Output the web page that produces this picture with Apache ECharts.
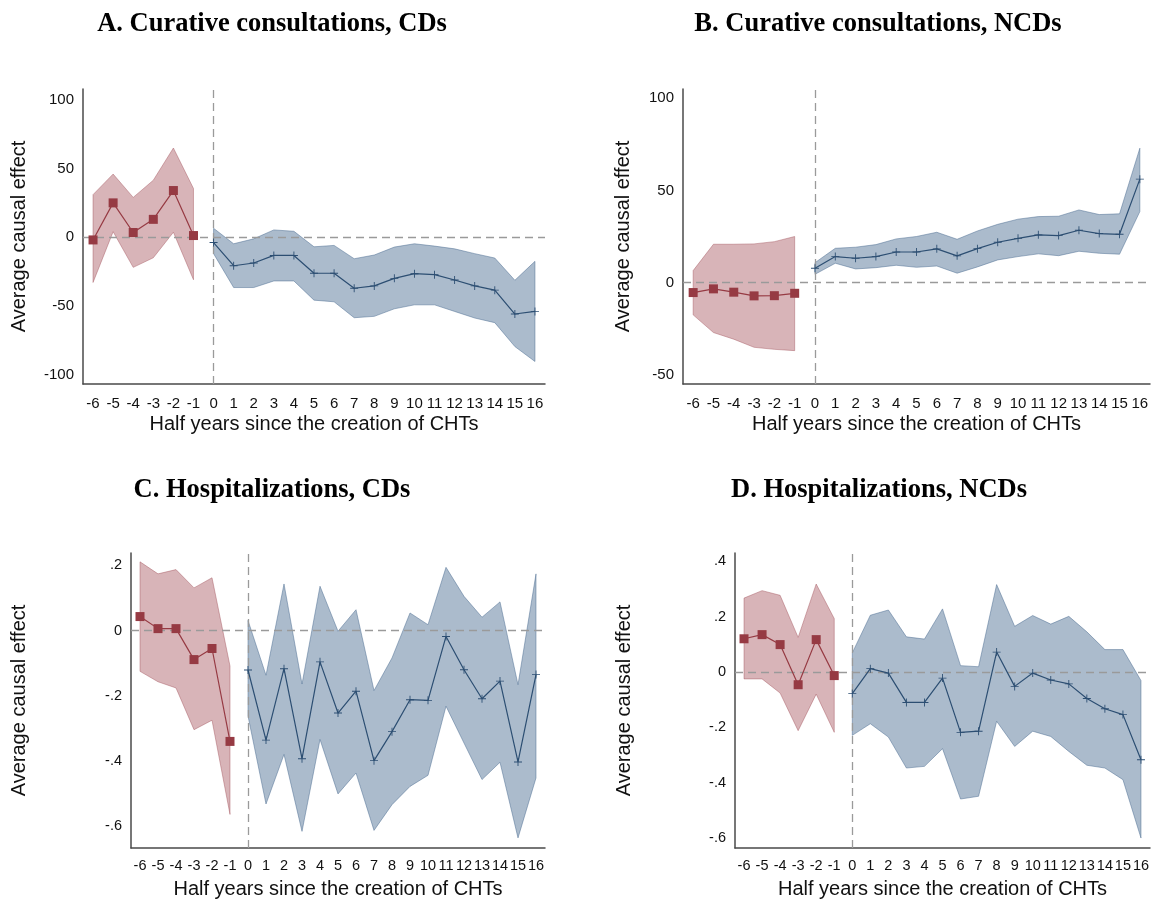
<!DOCTYPE html>
<html>
<head>
<meta charset="utf-8">
<title>Event-study estimates</title>
<script src="https://cdn.jsdelivr.net/npm/echarts@6/dist/echarts.min.js"></script>
<style>
  html, body { margin: 0; padding: 0; background: #ffffff; }
  #chart { width: 1159px; height: 902px; }
</style>
</head>
<body>
<div id="chart"></div>
<script>
// Half-year periods relative to the creation of CHTs
const periods = ['-6','-5','-4','-3','-2','-1','0','1','2','3','4','5','6','7','8','9','10','11','12','13','14','15','16'];
const prePeriods = ['-6','-5','-4','-3','-2','-1'];
const postPeriods = ['0','1','2','3','4','5','6','7','8','9','10','11','12','13','14','15','16'];

// A. Curative consultations, CDs
const aPre   = [-2, 25, 3.4, 13, 34, 1.2];
const aPreHi = [31, 46, 29, 41.5, 65, 35.5];
const aPreLo = [-33, 4, -22, -15, 3.6, -31];
const aPost   = [-3.9, -20.8, -18.8, -13.3, -13.3, -26.3, -26.3, -37.2, -35.5, -30, -26.6, -27.3, -31.2, -35.5, -38.6, -56, -54.1];
const aPostHi = [6.5, -4.8, -1.2, 5.3, 4.3, -7, -6, -15.7, -13, -7.2, -4.8, -6.5, -8.5, -12, -15.2, -31.4, -17.6];
const aPostLo = [-12, -36.7, -36.7, -31.9, -31.9, -45.9, -47.1, -58.7, -57.7, -52.2, -49.3, -49.3, -54.1, -58.9, -62.3, -79.7, -90.6];

// B. Curative consultations, NCDs
const bPre   = [-5.4, -3.4, -5.2, -7.2, -7.1, -5.8];
const bPreHi = [6.5, 20.8, 20.8, 21, 22.2, 25];
const bPreLo = [-17.5, -27.1, -30.7, -35.1, -36.2, -36.9];
const bPost   = [7.8, 14.1, 13.2, 14.1, 16.6, 16.6, 18.3, 14.5, 18.4, 21.9, 24, 25.9, 25.5, 28.4, 26.6, 26.2, 56.1];
const bPostHi = [10.8, 18.6, 19.2, 20.6, 23.7, 25, 27.3, 23.5, 28, 31.6, 34.4, 35.8, 36, 39.4, 36.9, 37.3, 72.9];
const bPostLo = [4.5, 10.5, 7.4, 8.1, 9.4, 8.3, 9, 5.1, 8.5, 12.3, 14.1, 15.6, 14.6, 17, 15.9, 15.4, 38.5];

// C. Hospitalizations, CDs
const cPre   = [0.043, 0.006, 0.006, -0.089, -0.055, -0.340];
const cPreHi = [0.211, 0.174, 0.187, 0.131, 0.162, -0.109];
const cPreLo = [-0.125, -0.157, -0.176, -0.304, -0.275, -0.564];
const cPost   = [-0.121, -0.336, -0.117, -0.393, -0.096, -0.253, -0.186, -0.399, -0.310, -0.212, -0.214, -0.018, -0.120, -0.209, -0.155, -0.403, -0.135];
const cPostHi = [0.031, -0.137, 0.143, -0.164, 0.136, -0.002, 0.064, -0.184, -0.084, 0.054, 0.018, 0.194, 0.105, 0.041, 0.088, -0.166, 0.174];
const cPostLo = [-0.262, -0.532, -0.380, -0.616, -0.334, -0.501, -0.437, -0.613, -0.534, -0.478, -0.444, -0.232, -0.345, -0.457, -0.404, -0.636, -0.452];

// D. Hospitalizations, NCDs
const dPre   = [0.120, 0.135, 0.099, -0.046, 0.117, -0.013];
const dPreHi = [0.267, 0.294, 0.277, 0.125, 0.318, 0.193];
const dPreLo = [-0.025, -0.025, -0.076, -0.212, -0.080, -0.218];
const dPost   = [-0.078, 0.012, -0.004, -0.110, -0.110, -0.022, -0.218, -0.214, 0.072, -0.052, -0.004, -0.029, -0.043, -0.096, -0.133, -0.154, -0.317];
const dPostHi = [0.069, 0.205, 0.224, 0.127, 0.119, 0.228, 0.023, 0.019, 0.316, 0.165, 0.204, 0.173, 0.201, 0.145, 0.081, 0.081, -0.031];
const dPostLo = [-0.229, -0.187, -0.235, -0.347, -0.341, -0.277, -0.459, -0.449, -0.178, -0.269, -0.214, -0.233, -0.287, -0.337, -0.347, -0.389, -0.600];

// Panel titles and y-axis tick labels
const titles = ['A. Curative consultations, CDs', 'B. Curative consultations, NCDs', 'C. Hospitalizations, CDs', 'D. Hospitalizations, NCDs'];
const yTicksTop = [-100, -50, 0, 50, 100];
const yTicksBottom = [-0.6, -0.4, -0.2, 0, 0.2, 0.4];

const RED_LINE = '#963a43';
const RED_BAND = 'rgba(173, 96, 104, 0.47)';
const RED_EDGE = 'rgba(160, 80, 90, 0.55)';
const BLUE_LINE = '#2c4e72';
const BLUE_BAND = 'rgba(94, 124, 157, 0.52)';
const BLUE_EDGE = 'rgba(70, 104, 142, 0.6)';
const AXIS_COLOR = '#4a4a4a';
const TEXT_COLOR = '#111111';
const SANS = '"Liberation Sans", Arial, Helvetica, sans-serif';

const plusPath = 'path://M4,0h1v9h-1z M0,4h9v1h-9z';

function fmtSmall(v) {
  if (Math.abs(v) < 1e-9) return '0';
  const s = String(Math.round(v * 10) / 10);
  return s.replace('0.', '.');
}

const panels = [
  { pre: aPre, preHi: aPreHi, preLo: aPreLo, post: aPost, postHi: aPostHi, postLo: aPostLo,
    grid: { left: 83, top: 89, width: 462, height: 295 }, yMin: -107, yMax: 108, ticks: yTicksTop, fmt: v => String(v),
    nameGapY: 54, nameGapX: 30, labelMarginX: 12, tickFont: 15 },
  { pre: bPre, preHi: bPreHi, preLo: bPreLo, post: bPost, postHi: bPostHi, postLo: bPostLo,
    grid: { left: 683, top: 89, width: 467, height: 295 }, yMin: -55, yMax: 105, ticks: yTicksTop, fmt: v => String(v),
    nameGapY: 50, nameGapX: 30, labelMarginX: 12, tickFont: 15 },
  { pre: cPre, preHi: cPreHi, preLo: cPreLo, post: cPost, postHi: cPostHi, postLo: cPostLo,
    grid: { left: 131, top: 553, width: 414, height: 295 }, yMin: -0.667, yMax: 0.238, ticks: yTicksBottom, fmt: fmtSmall,
    nameGapY: 102, nameGapX: 31, labelMarginX: 10, tickFont: 14.5 },
  { pre: dPre, preHi: dPreHi, preLo: dPreLo, post: dPost, postHi: dPostHi, postLo: dPostLo,
    grid: { left: 735, top: 553, width: 415, height: 295 }, yMin: -0.636, yMax: 0.43, ticks: yTicksBottom, fmt: fmtSmall,
    nameGapY: 101, nameGapX: 31, labelMarginX: 10, tickFont: 14.5 }
];

const titlePos = [
  { cx: 272, top: 11 }, { cx: 878, top: 11 }, { cx: 272, top: 477 }, { cx: 879, top: 477 }
];

const option = {
  animation: false,
  backgroundColor: '#ffffff',
  title: titles.map((t, i) => ({
    text: t,
    left: titlePos[i].cx,
    top: titlePos[i].top,
    padding: 0,
    textAlign: 'center',
    textStyle: { fontFamily: '"Liberation Serif", "Times New Roman", serif', fontWeight: 'bold', fontSize: 26.5, color: '#000' }
  })),
  grid: panels.map(p => Object.assign({ outerBoundsMode: 'none', containLabel: false }, p.grid)),
  xAxis: panels.map((p, i) => ({
    type: 'category',
    gridIndex: i,
    data: periods,
    boundaryGap: true,
    name: 'Half years since the creation of CHTs',
    nameLocation: 'middle',
    nameGap: p.nameGapX,
    nameTextStyle: { fontFamily: SANS, fontSize: 20, color: TEXT_COLOR },
    axisLine: { show: true, onZero: false, lineStyle: { color: AXIS_COLOR, width: 1.5 } },
    axisTick: { show: false },
    axisLabel: { interval: 0, fontFamily: SANS, fontSize: p.tickFont, color: TEXT_COLOR, margin: p.labelMarginX },
    splitLine: { show: false }
  })),
  yAxis: panels.map((p, i) => ({
    type: 'value',
    gridIndex: i,
    min: p.yMin,
    max: p.yMax,
    name: 'Average causal effect',
    nameLocation: 'middle',
    nameGap: p.nameGapY,
    nameTextStyle: { fontFamily: SANS, fontSize: 20, color: TEXT_COLOR },
    axisLine: { show: true, onZero: false, lineStyle: { color: AXIS_COLOR, width: 1.5 } },
    axisTick: { show: false },
    splitLine: { show: false },
    axisLabel: {
      fontFamily: SANS, fontSize: p.tickFont, color: TEXT_COLOR, margin: 9,
      customValues: p.ticks,
      formatter: v => p.fmt(v)
    }
  })),
  series: []
};

// Confidence band drawn as one polygon through the axis scales
function bandSeries(i, cats, lo, hi, fill, edge) {
  return {
    type: 'custom',
    xAxisIndex: i,
    yAxisIndex: i,
    silent: true,
    z: 1,
    data: cats.map((c, k) => [c, lo[k], hi[k]]),
    encode: { x: 0, y: [1, 2] },
    renderItem: function (params, api) {
      if (params.dataIndex !== 0) return null;
      const upper = cats.map((c, k) => api.coord([c, hi[k]]));
      const lower = cats.map((c, k) => api.coord([c, lo[k]])).reverse();
      return {
        type: 'polygon',
        shape: { points: upper.concat(lower) },
        style: { fill: fill, stroke: edge, lineWidth: 0.8 }
      };
    }
  };
}

function lineSeries(i, cats, vals, color, symbol, size) {
  return {
    type: 'line',
    xAxisIndex: i,
    yAxisIndex: i,
    z: 3,
    data: cats.map((c, k) => [c, vals[k]]),
    symbol: symbol,
    symbolSize: size,
    showAllSymbol: true,
    lineStyle: { color: color, width: 1.2 },
    itemStyle: { color: color, borderWidth: 0 }
  };
}

panels.forEach((p, i) => {
  option.series.push(bandSeries(i, prePeriods, p.preLo, p.preHi, RED_BAND, RED_EDGE));
  option.series.push(bandSeries(i, postPeriods, p.postLo, p.postHi, BLUE_BAND, BLUE_EDGE));
  const pre = lineSeries(i, prePeriods, p.pre, RED_LINE, 'rect', 9);
  // Reference lines at zero effect and at period 0
  pre.markLine = {
    silent: true,
    symbol: ['none', 'none'],
    label: { show: false },
    lineStyle: { color: '#9a9a9a', type: [8, 5], width: 1.3 },
    data: [{ yAxis: 0 }, { xAxis: '0' }],
    z: 2
  };
  option.series.push(pre);
  option.series.push(lineSeries(i, postPeriods, p.post, BLUE_LINE, plusPath, 8));
});

const chart = echarts.init(document.getElementById('chart'), null, { renderer: 'canvas' });
chart.setOption(option);
</script>
</body>
</html>
